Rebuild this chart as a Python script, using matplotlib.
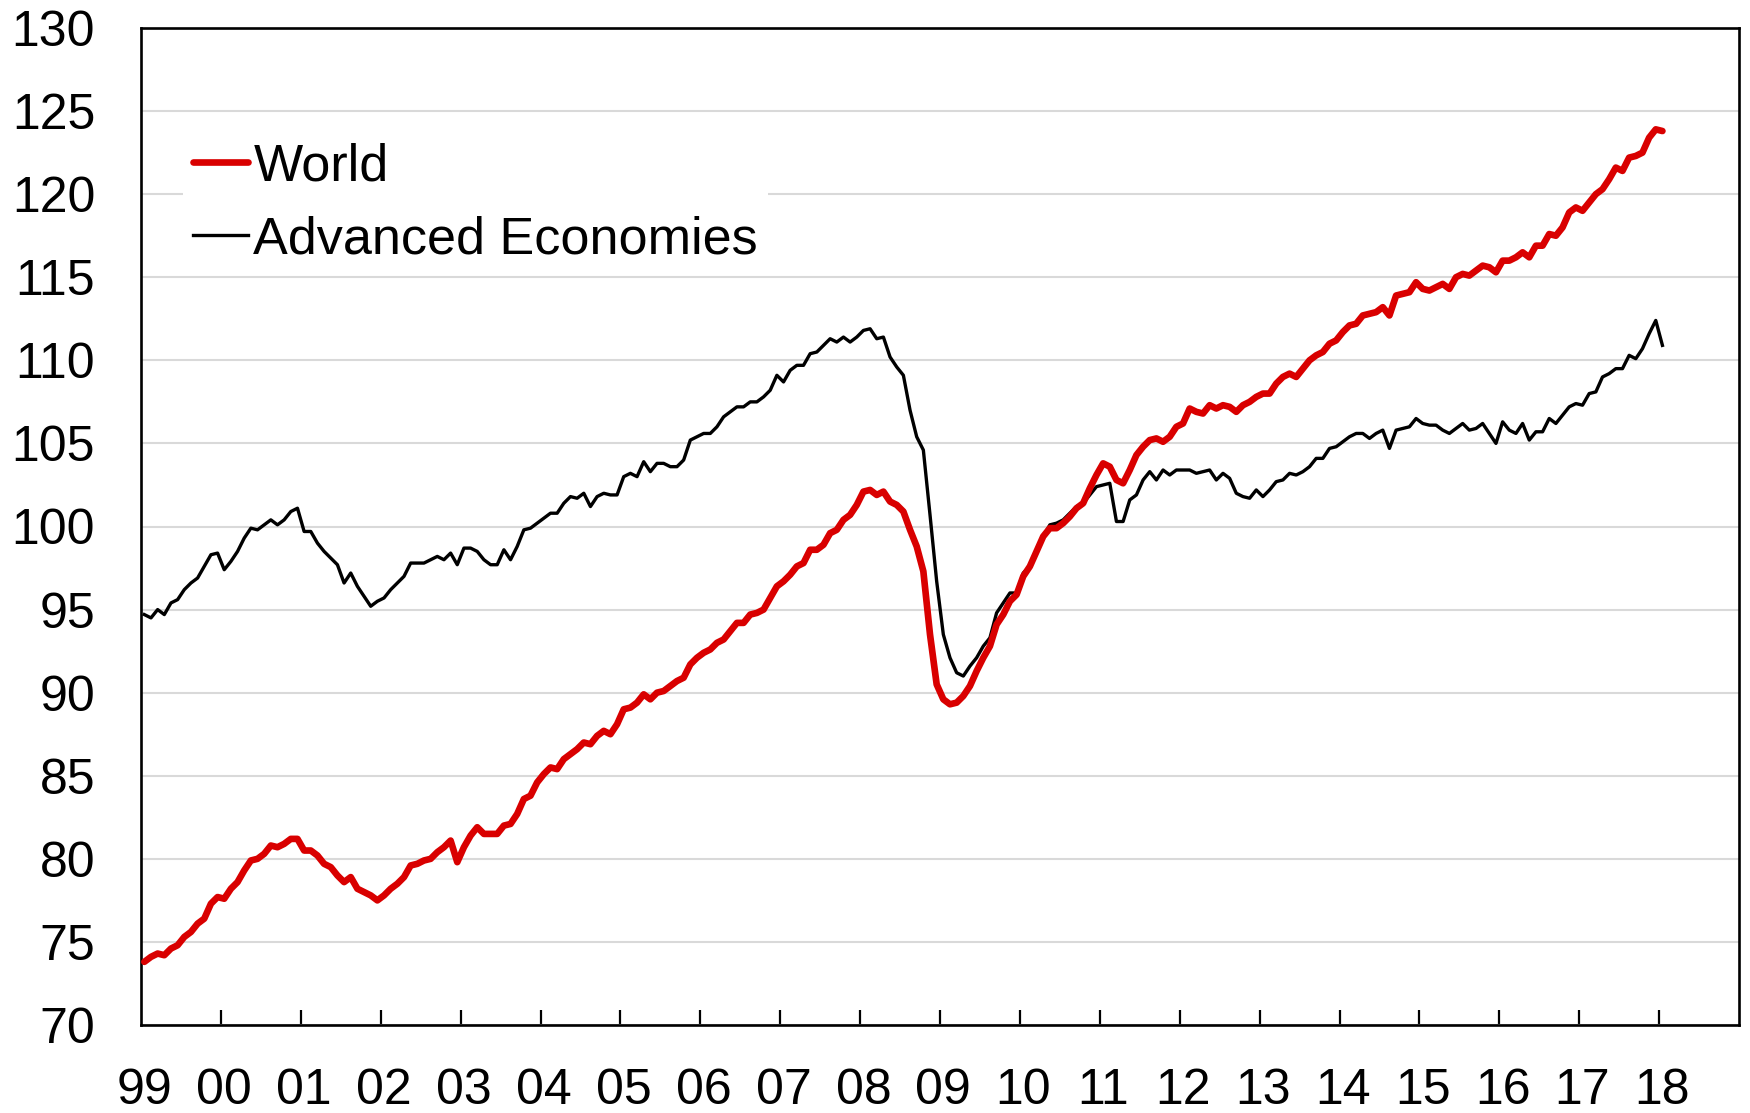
import numpy as np
import matplotlib
matplotlib.use("Agg")
import matplotlib.pyplot as plt

# Monthly index values, Jan 1999 - Jan 2018
world = [
    73.8, 74.1, 74.3, 74.2, 74.6, 74.8, 75.3, 75.6, 76.1, 76.4, 77.3, 77.7,
    77.6, 78.2, 78.6, 79.3, 79.9, 80.0, 80.3, 80.8, 80.7, 80.9, 81.2, 81.2,
    80.5, 80.5, 80.2, 79.7, 79.5, 79.0, 78.6, 78.9, 78.2, 78.0, 77.8, 77.5,
    77.8, 78.2, 78.5, 78.9, 79.6, 79.7, 79.9, 80.0, 80.4, 80.7, 81.1, 79.8,
    80.7, 81.4, 81.9, 81.5, 81.5, 81.5, 82.0, 82.1, 82.7, 83.6, 83.8, 84.6,
    85.1, 85.5, 85.4, 86.0, 86.3, 86.6, 87.0, 86.9, 87.4, 87.7, 87.5, 88.1,
    89.0, 89.1, 89.4, 89.9, 89.6, 90.0, 90.1, 90.4, 90.7, 90.9, 91.7, 92.1,
    92.4, 92.6, 93.0, 93.2, 93.7, 94.2, 94.2, 94.7, 94.8, 95.0, 95.7, 96.4,
    96.7, 97.1, 97.6, 97.8, 98.6, 98.6, 98.9, 99.6, 99.8, 100.4, 100.7, 101.3,
    102.1, 102.2, 101.9, 102.1, 101.5, 101.3, 100.9, 99.8, 98.8, 97.3, 93.5, 90.5,
    89.6, 89.3, 89.4, 89.8, 90.4, 91.3, 92.1, 92.8, 94.1, 94.7, 95.5, 95.9,
    97.0, 97.6, 98.5, 99.4, 99.9, 99.9, 100.2, 100.6, 101.1, 101.4, 102.3, 103.1,
    103.8, 103.6, 102.8, 102.6, 103.4, 104.3, 104.8, 105.2, 105.3, 105.1, 105.4, 106.0,
    106.2, 107.1, 106.9, 106.8, 107.3, 107.1, 107.3, 107.2, 106.9, 107.3, 107.5, 107.8,
    108.0, 108.0, 108.6, 109.0, 109.2, 109.0, 109.5, 110.0, 110.3, 110.5, 111.0, 111.2,
    111.7, 112.1, 112.2, 112.7, 112.8, 112.9, 113.2, 112.7, 113.9, 114.0, 114.1, 114.7,
    114.3, 114.2, 114.4, 114.6, 114.3, 115.0, 115.2, 115.1, 115.4, 115.7, 115.6, 115.3,
    116.0, 116.0, 116.2, 116.5, 116.2, 116.9, 116.9, 117.6, 117.5, 118.0, 118.9, 119.2,
    119.0, 119.5, 120.0, 120.3, 120.9, 121.6, 121.4, 122.2, 122.3, 122.5, 123.4, 123.9,
    123.8,
]

advanced = [
    94.7, 94.5, 95.0, 94.7, 95.4, 95.6, 96.2, 96.6, 96.9, 97.6, 98.3, 98.4,
    97.4, 97.9, 98.5, 99.3, 99.9, 99.8, 100.1, 100.4, 100.1, 100.4, 100.9, 101.1,
    99.7, 99.7, 99.0, 98.5, 98.1, 97.7, 96.6, 97.2, 96.4, 95.8, 95.2, 95.5,
    95.7, 96.2, 96.6, 97.0, 97.8, 97.8, 97.8, 98.0, 98.2, 98.0, 98.4, 97.7,
    98.7, 98.7, 98.5, 98.0, 97.7, 97.7, 98.6, 98.0, 98.8, 99.8, 99.9, 100.2,
    100.5, 100.8, 100.8, 101.4, 101.8, 101.7, 102.0, 101.2, 101.8, 102.0, 101.9, 101.9,
    103.0, 103.2, 103.0, 103.9, 103.3, 103.8, 103.8, 103.6, 103.6, 104.0, 105.2, 105.4,
    105.6, 105.6, 106.0, 106.6, 106.9, 107.2, 107.2, 107.5, 107.5, 107.8, 108.2, 109.1,
    108.7, 109.4, 109.7, 109.7, 110.4, 110.5, 110.9, 111.3, 111.1, 111.4, 111.1, 111.4,
    111.8, 111.9, 111.3, 111.4, 110.2, 109.6, 109.1, 107.0, 105.4, 104.6, 100.7, 96.7,
    93.5, 92.1, 91.2, 91.0, 91.6, 92.1, 92.8, 93.3, 94.8, 95.4, 96.0, 96.0,
    97.2, 97.6, 98.5, 99.4, 100.1, 100.2, 100.4, 100.8, 101.2, 101.4, 101.9, 102.4,
    102.5, 102.6, 100.3, 100.3, 101.6, 101.9, 102.8, 103.3, 102.8, 103.4, 103.1, 103.4,
    103.4, 103.4, 103.2, 103.3, 103.4, 102.8, 103.2, 102.9, 102.0, 101.8, 101.7, 102.2,
    101.8, 102.2, 102.7, 102.8, 103.2, 103.1, 103.3, 103.6, 104.1, 104.1, 104.7, 104.8,
    105.1, 105.4, 105.6, 105.6, 105.3, 105.6, 105.8, 104.7, 105.8, 105.9, 106.0, 106.5,
    106.2, 106.1, 106.1, 105.8, 105.6, 105.9, 106.2, 105.8, 105.9, 106.2, 105.6, 105.0,
    106.3, 105.8, 105.6, 106.2, 105.2, 105.7, 105.7, 106.5, 106.2, 106.7, 107.2, 107.4,
    107.3, 108.0, 108.1, 109.0, 109.2, 109.5, 109.5, 110.3, 110.1, 110.7, 111.6, 112.4,
    110.9,
]

year_labels = ["99", "00", "01", "02", "03", "04", "05", "06", "07", "08",
               "09", "10", "11", "12", "13", "14", "15", "16", "17", "18"]
y_ticks = list(range(70, 131, 5))

plt.rcParams["font.family"] = ["Liberation Sans", "DejaVu Sans"]

fig = plt.figure(figsize=(17.5, 11.13), dpi=100)
ax = fig.add_axes([141 / 1750, 1 - 1025 / 1113, 1598 / 1750, 997 / 1113])

# monthly points sit in the middle of each month slot
x = np.arange(len(world)) + 0.5
black_line, = ax.plot(x, advanced, color="black", lw=2.4, zorder=3,
                      label="Advanced Economies")
red_line, = ax.plot(x, world, color="#d90000", lw=4.8, zorder=4,
                    solid_joinstyle="round", solid_capstyle="round", label="World")

ax.set_xlim(0, 240)
ax.set_ylim(70, 130)
ax.set_yticks(y_ticks)

# year ticks inside, labels on the January slot
ax.set_xticks(np.arange(12, 229, 12))
ax.set_xticks(np.arange(0, 229, 12) + 0.5, minor=True)
ax.set_xticklabels(year_labels, minor=True)
ax.tick_params(axis="x", which="major", direction="in", length=11, width=1.6,
               labelbottom=False)
ax.tick_params(axis="x", which="minor", length=0, pad=31, labelsize=36)
ax.tick_params(axis="y", length=0, pad=33, labelsize=36)

ax.grid(axis="y", color="#d9d9d9", lw=1.5)
ax.set_axisbelow(True)
for s in ax.spines.values():
    s.set_linewidth(1.9)

leg = ax.legend(handles=[red_line, black_line], loc="upper left",
                bbox_to_anchor=(0.026, 0.896), fontsize=37.5, frameon=True,
                fancybox=False, framealpha=1, edgecolor="none",
                handlelength=1.06, handletextpad=0.1, labelspacing=0.46,
                borderpad=0.2, borderaxespad=0)

fig.savefig("out.png", dpi=100)
